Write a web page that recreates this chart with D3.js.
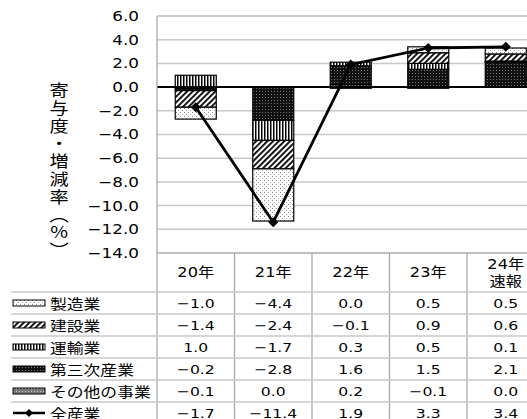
<!DOCTYPE html>
<html><head><meta charset="utf-8">
<script src="https://cdn.jsdelivr.net/npm/d3@7"></script>
<style>
html,body{margin:0;padding:0;background:#fff;}
svg{display:block;}
</style>
</head><body>
<svg id="chart" width="527" height="419"></svg>
<script>
const years = ["20年","21年","22年","23年","24年"];
const yearLabels = [["20年"],["21年"],["22年"],["23年"],["24年","速報"]];
const seriesNames = ["製造業","建設業","運輸業","第三次産業","その他の事業"];
const manufacturing = [-1.0,-4.4,0.0,0.5,0.5];
const construction = [-1.4,-2.4,-0.1,0.9,0.6];
const transport = [1.0,-1.7,0.3,0.5,0.1];
const tertiary = [-0.2,-2.8,1.6,1.5,2.1];
const other = [-0.1,0.0,0.2,-0.1,0.0];
const lineName = "全産業";
const allIndustry = [-1.7,-11.4,1.9,3.3,3.4];
const yTicks = [6,4,2,0,-2,-4,-6,-8,-10,-12,-14];
const axisTitle = "寄与度・増減率（％）";

const seriesValues = [manufacturing, construction, transport, tertiary, other];
const patternIds = ["pDots","pHatch","pVert","pDark","pGray"];

const svg = d3.select("#chart");
const W = 527, H = 419;
const plotLeft = 157, colW = 77.5;
const plotTop = 16, plotBottom = 253;
const headerBottom = 292, rowH = 22;
const numFont = "'DejaVu Sans','Noto Sans CJK JP',sans-serif";
const jpFont = "'Noto Sans CJK JP',sans-serif";
const SX = 1.2;

// patterns
const defs = svg.append("defs");
let p = defs.append("pattern").attr("id","pDots").attr("patternUnits","userSpaceOnUse").attr("width",4).attr("height",4);
p.append("rect").attr("width",4).attr("height",4).attr("fill","#fff");
p.append("rect").attr("x",0).attr("y",0).attr("width",1).attr("height",1).attr("fill","#888");
p.append("rect").attr("x",2).attr("y",2).attr("width",1).attr("height",1).attr("fill","#aaa");

p = defs.append("pattern").attr("id","pHatch").attr("patternUnits","userSpaceOnUse").attr("width",4).attr("height",4)
  .attr("patternTransform","rotate(45)");
p.append("rect").attr("width",4).attr("height",4).attr("fill","#fff");
p.append("rect").attr("x",0).attr("y",0).attr("width",1.8).attr("height",4).attr("fill","#000");

p = defs.append("pattern").attr("id","pVert").attr("patternUnits","userSpaceOnUse").attr("width",3).attr("height",3);
p.append("rect").attr("width",3).attr("height",3).attr("fill","#fff");
p.append("rect").attr("x",0).attr("y",0).attr("width",1.5).attr("height",3).attr("fill","#000");

p = defs.append("pattern").attr("id","pDark").attr("patternUnits","userSpaceOnUse").attr("width",3).attr("height",3);
p.append("rect").attr("width",3).attr("height",3).attr("fill","#111");
p.append("rect").attr("x",1).attr("y",1).attr("width",1).attr("height",1).attr("fill","#777");

p = defs.append("pattern").attr("id","pGray").attr("patternUnits","userSpaceOnUse").attr("width",3).attr("height",3);
p.append("rect").attr("width",3).attr("height",3).attr("fill","#777");
p.append("rect").attr("x",1).attr("y",1).attr("width",1).attr("height",1).attr("fill","#ccc");

// scales
const x = d3.scaleBand().domain(years).range([plotLeft, plotLeft + colW*years.length]).padding(0);
const y = d3.scaleLinear().domain([-14, 6]).range([plotBottom, plotTop]);
const barW = 41;

// gridlines
svg.append("g").selectAll("line").data(yTicks.filter(t => t !== 0 && t !== -14)).join("line")
  .attr("x1", plotLeft).attr("x2", W).attr("y1", d => y(d)).attr("y2", d => y(d))
  .attr("stroke","#c8c8c8").attr("stroke-width",1.5);

// y axis labels
const yAxis = d3.axisLeft(y).tickValues(yTicks).tickSize(0).tickPadding(18).tickFormat(d3.format(".1f"));
const ga = svg.append("g").attr("transform",`translate(${plotLeft},0)`).call(yAxis);
ga.select(".domain").remove();
ga.selectAll("text").attr("font-family",numFont).attr("font-size",14).attr("fill","#000")
  .attr("x", -18/SX).attr("transform",`scale(${SX},1)`);

// axis title (vertical)
svg.append("g").attr("transform",`translate(59,82) scale(${SX},1)`)
  .append("text").attr("x",0).attr("y",0)
  .attr("font-family",jpFont).attr("font-size",16).attr("letter-spacing",1.8)
  .style("writing-mode","vertical-rl").attr("fill","#000").text(axisTitle);

// stacked bars
const keys = [4,3,2,1,0];
const rows = years.map((yr,i) => { const o = {year: yr}; seriesValues.forEach((s,k) => o[k] = s[i]); return o; });
const stacked = d3.stack().keys(keys).offset(d3.stackOffsetDiverging)(rows);
const gb = svg.append("g");
stacked.forEach(layer => {
  const k = layer.key;
  gb.append("g").selectAll("rect").data(layer).join("rect")
    .attr("x", d => x(d.data.year) + x.bandwidth()/2 - barW/2)
    .attr("width", barW)
    .attr("y", d => y(Math.max(d[0], d[1])))
    .attr("height", d => Math.abs(y(d[0]) - y(d[1])))
    .attr("fill", `url(#${patternIds[k]})`)
    .attr("stroke", "#000").attr("stroke-width", d => Math.abs(d[1]-d[0]) > 0 ? 1.2 : 0);
});

// zero line
svg.append("line").attr("x1",plotLeft).attr("x2",W).attr("y1",y(0)).attr("y2",y(0))
  .attr("stroke","#000").attr("stroke-width",2);

// total line
const line = d3.line().x((d,i) => x(years[i]) + x.bandwidth()/2).y(d => y(d));
svg.append("path").datum(allIndustry).attr("d", line).attr("fill","none")
  .attr("stroke","#000").attr("stroke-width",2.8).attr("stroke-linejoin","round");
svg.append("g").selectAll("path").data(allIndustry).join("path")
  .attr("d", d3.symbol(d3.symbolSquare, 50))
  .attr("transform", (d,i) => `translate(${x(years[i]) + x.bandwidth()/2},${y(d)}) rotate(45)`)
  .attr("fill","#000");

// table
const gt = svg.append("g");
gt.append("line").attr("x1",plotLeft).attr("x2",plotLeft).attr("y1",plotTop).attr("y2",H)
  .attr("stroke","#aaa").attr("stroke-width",1.3);
gt.append("line").attr("x1",plotLeft).attr("x2",W).attr("y1",plotTop).attr("y2",plotTop)
  .attr("stroke","#c8c8c8").attr("stroke-width",1.5);
gt.append("line").attr("x1",plotLeft).attr("x2",W).attr("y1",plotBottom).attr("y2",plotBottom)
  .attr("stroke","#aaa").attr("stroke-width",1.3);
gt.selectAll("line.col").data(years.slice(1)).join("line").attr("class","col")
  .attr("x1", d => x(d)).attr("x2", d => x(d)).attr("y1", plotBottom).attr("y2", H)
  .attr("stroke","#aaa").attr("stroke-width",1.3);
const rowLabels = seriesNames.concat([lineName]);
gt.selectAll("line.row").data(rowLabels).join("line").attr("class","row")
  .attr("x1", 11).attr("x2", W)
  .attr("y1", (d,i) => headerBottom + i*rowH).attr("y2", (d,i) => headerBottom + i*rowH)
  .attr("stroke","#c8c8c8").attr("stroke-width",1.3);

function stretchedText(parent, tx, ty, txt, font, size, anchor) {
  return parent.append("g").attr("transform",`translate(${tx},${ty}) scale(${SX},1)`)
    .append("text").attr("x",0).attr("y",0).attr("text-anchor",anchor)
    .attr("dominant-baseline","central").attr("font-family",font).attr("font-size",size)
    .attr("fill","#000").text(txt);
}

// header labels
yearLabels.forEach((lbl,i) => {
  const cx = x(years[i]) + x.bandwidth()/2;
  const cy = (plotBottom + headerBottom)/2;
  lbl.forEach((t,j) => {
    stretchedText(gt, cx, cy + (j - (lbl.length-1)/2)*17, t, numFont, 13.5, "middle");
  });
});

// data cells + legend
const fmt = d3.format(".1f");
const tableValues = seriesValues.concat([allIndustry]);
tableValues.forEach((vals,r) => {
  const cy = headerBottom + r*rowH + rowH/2;
  vals.forEach((v,i) => {
    stretchedText(gt, x(years[i]) + x.bandwidth()/2, cy, fmt(v), numFont, 13, "middle");
  });
  stretchedText(gt, 50, cy, rowLabels[r], jpFont, 14, "start");
  if (r < seriesValues.length) {
    gt.append("rect").attr("x",13).attr("y",cy-3).attr("width",32).attr("height",6)
      .attr("fill",`url(#${patternIds[r]})`).attr("stroke","#000").attr("stroke-width",1);
  } else {
    gt.append("line").attr("x1",13).attr("x2",45).attr("y1",cy).attr("y2",cy)
      .attr("stroke","#000").attr("stroke-width",2.5);
    gt.append("path").attr("d", d3.symbol(d3.symbolSquare, 32))
      .attr("transform",`translate(29,${cy}) rotate(45)`).attr("fill","#000");
  }
});
</script>
</body></html>
